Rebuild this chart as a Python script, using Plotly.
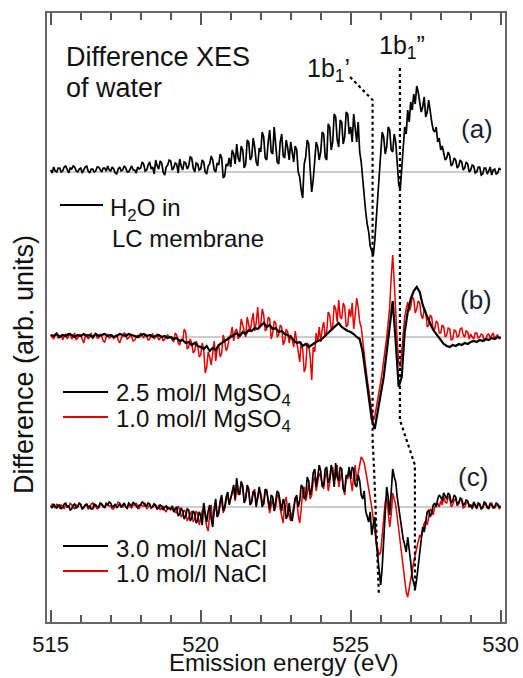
import plotly.graph_objects as go

# ---------------- data (deviation from each baseline, arb. units x10), 515 -> 530 eV ----------------
E_START, E_END = 515.0, 530.0

h2o_lc = [2, -1, 5, 1, 0, 4, 4, 0, 1, 5, 6, 2, -1, 4, 3, 6, 5, 1, 0, 3, 4, -1, 2, 5, 6, 1, -1, 3, 3, 0,
          1, 5, 5, 2, 0, 4, 4, 1, 6, 2, 1, 5, 3, -1, -2, 3, 5, 1, 2, 6, 4, 0, 0, 3, 6, 2, 2, -1, 5, 3,
          4, 10, 8, 1, 2, 7, 10, 3, 5, -2, 12, 6, 3, 11, 9, 0, -3, 5, 7, 12,
          11, 2, 4, 9, 8, -1, 13, 6, 2, 10, 9, 3, 6, 15, 14, 4, 0, 9, 8, 2,
          3, 12, 10, 0, -2, 6, 8, 16, 12, 2, 0, 9, 7, 18, 14, -6, -4, 8, 6, 14,
          5, 22, 18, 8, 28, 14, 10, 26, 22, 4, 8, 32, 30, 12, 15, 34, 25, 10, 6, 24,
          20, 40, 35, 14, 12, 30, 42, 20, 18, 45, 28, 10, 8, 30, 38, 16, 14, 32, 24, 12,
          30, 18, 10, 26, 22, 0, -5, -18, -26, 8, 15, 32, 28, 2, -20, -8, 8, 30, 25, 12,
          20, 40, 38, 15, 12, 48, 45, 22, 30, 58, 55, 32, 25, 52, 50, 28, 35, 60, 58, 38,
          45, 30, 58, 42, 30, 50, 20, 10, -10, -30, -40, -52, -60, -74, -80, -84, -70, -50, -20, 0,
          15, 40, 35, 18, 25, 45, 42, 22, 20, 38, 30, 5, -12, -18, 5, 28, 45, 38, 62, 50,
          70, 62, 78, 68, 86, 80, 72, 60, 65, 75, 55, 60, 72, 58, 50, 42, 40, 45, 30, 34,
          22, 26, 18, 12, 14, 20, 16, 6, 8, 14, 12, 4, 6, 12, 10, 2, 4, 10, 8, 0,
          2, 7, 6, -1, 0, 5, 5, -3, -2, 4, 4, -2, 1, 5, -3, 2, 3, -2, -1, 4, 2]

mgso4_25 = [2, 1, 3, 0, 2, 1, 3, 2, 0, 2, 1, 3, 1, 2, 0, 3, 1, 2, 3, 1, 2, 0, 1, 3, 2, 1, 3, 2, 1, 0,
            2, 3, 1, 2, 0, 1, 2, 0, 1, -1,
            0, -2, -1, -4, -3, -6, -5, -8, -6, -9,
            -10, -12, -9, -14, -11, -13, -8, -6, -4, -2,
            0, 2, 4, 1, 5, 3, 7, 6, 9, 8,
            11, 14, 10, 12, 8, 9, 5, 6, 3, 2,
            0, -3, -6, -5, -9, -7, -10, -8, -6, -4,
            -3, 0, 2, 5, 8, 12, 14, 10, 8, 6,
            5, 3, 0, -2, -15, -38, -62, -82, -92, -75,
            -60, -40, -15, 12, 36, -5, -50, -40, 5, 25,
            38, 46, 50, 45, 32, 24, 16, 10, 5, 1,
            -4, -7, -9, -10, -8, -9, -7, -8, -6, -7,
            -5, -4, -5, -3, -4, -2, -3, -1, -2, 0, -1]

mgso4_10 = [2, 0, -2, 3, 4, -1, 0, 2, -3, 1, 3, -2, 1, 4, -2, 0, 4, -3, -1, 2,
            2, -3, -6, 0, 3, -2, 0, 4, -2, 1, 4, -1, -1, 3, 1, -4, -5, 0, 3, -1,
            0, 2, -2, 1, 2, -3, -6, -1, 1, 4, 3, -2, -1, 2, 0, -4, -3, 0, 2, -1,
            4, 1, -1, 3, 1, -3, -2, 2, 3, -2, 0, 3, -3, -1, 1, -4, -2, 1, 2, 0,
            0, -3, -5, 4, 2, -6, -8, -2, -4, 8, 5, -12, -10, -2, -6, -16, -14, -4, -8, -20,
            -18, -6, -12, -36, -30, -15, -20, -28, -14, -4, -24, -12, -8, -20, -16, 2, -4, -14, -10, 0,
            2, 10, -4, 6, 8, -2, 3, 18, 12, 4, 0, 20, 10, 5, 16, 24, 6, 14, 30, 10,
            12, 28, 22, 6, 8, 20, 18, -2, 4, 16, 14, 0, 2, 12, 10, -8, -4, 8, 5, -6,
            2, -2, -10, 6, -4, -18, -25, -5, -12, -35, -30, -6, -8, -20, -43, -10, -15, 4, -5, 10,
            -5, 8, 15, 0, 5, 25, 22, 8, 10, 32, 28, 15, 37, 20, 18, 34, 30, 10, 12, 28,
            20, 34, 8, 22, 39, 30, 15, 10, -5, -18, -30, -42, -52, -62, -70, -84, -80, -72, -60, -52,
            -45, -35, -25, -10, 0, 15, 30, 60, 82, 55, 20, -5, -25, -30, -15, 5, 20, 28, 35, 26,
            30, 40, 38, 24, 28, 36, 34, 22, 18, 28, 25, 10, 12, 22, 20, 6, 8, 16, 14, 4,
            4, 12, 10, 0, 2, 9, 8, -3, -2, 7, 6, 0, 1, 8, 9, 2, 0, 6, 5, -2,
            3, 0, -2, 4, 4, -1, 0, 3, 2, -4, -3, 2, 3, -1, 1, 4, -2, 1, 2, -2, 0]

nacl_30 = [1, -1, 3, 0, -1, 2, 2, -2, 0, 3, 4, 0, 1, -3, -2, 2, 3, -1, 0, 4,
           2, -2, -1, 2, 3, 0, 1, -2, -2, 3, 2, 0, 0, 4, 3, 1, -1, 3, 2, 5,
           4, 0, 1, 3, -1, 1, 3, 0, 2, 4, 0, -1, 4, 2, 1, 5, 3, 0, -1, 2,
           2, 5, 4, 1, 1, 4, 3, -1, 0, 3, 2, -2, -1, 2, 1, -3, 0, 1, -2, -1,
           -2, 1, -5, -2, 0, -9, -7, -1, -4, -12, -9, -2, -3, -14, -11, -4, -6, -16, -13, -5,
           -8, -18, 4, -6, -15, -4, 2, -12, -20, -2, 8, -10, -5, 6, 12, -4, 0, 10, 15, 2,
           10, 18, 22, 8, 29, 16, 12, 25, 20, 4, 8, 22, 18, 2, 5, 16, 14, 0, 10, 20,
           12, 0, 4, 18, 16, 6, -2, 12, 10, -4, 6, 16, 14, 2, -4, 8, 3, -12, -8, 4,
           -10, -14, -4, 8, 12, 0, 6, 22, 20, 8, 10, 30, 26, 12, 18, 34, 38, 20, 30, 42,
           36, 20, 22, 38, 40, 24, 28, 42, 34, 20, 44, 30, 26, 40, 38, 18, 15, 32, 30, 40,
           28, 40, 38, 22, 20, 32, 26, 12, 8, 16, -4, -10, -15, -5, -28, -18, -10, -35, -50, -70,
           -78, -60, -30, 0, 20, 10, -8, 15, 38, 30, 25, 10, -2, -12, -20, -32, -38, -45, -30, -40,
           -55, -70, -78, -82, -72, -60, -45, -30, -20, -25, -12, -5, -3, -10, -6, 2, 4, 0, 8, 12,
           10, 6, 14, 10, 8, 14, 12, 4, 6, 12, 10, 3, 4, 9, 8, 2, 3, 7, 6, 1,
           2, -1, 5, 2, -1, 4, 3, -2, 0, 5, 4, 0, -2, 3, 2, -1, 0, 4, 3, 0, 1]

nacl_10 = [0, 3, 2, -1, 3, 1, -1, 2, 1, -2, 3, 1, 0, 4, 2, -1, -2, 2, 1, 4,
           3, -1, 0, 2, 2, -2, -1, 3, 4, 0, 1, -2, -1, 3, 2, 0, 0, 4, 3, 1,
           1, -2, -2, 2, 2, 5, 4, 1, 0, 3, 1, -2, 3, 0, -1, 2, 2, 4, 0, -2,
           3, 1, 1, 4, -2, 0, 2, -1, 1, 3, 0, -2, 2, -3, -1, 1, -3, -5, 0, -2,
           -3, 0, -1, -5, -6, 1, -2, -10, -8, -3, -5, -14, -10, -6, -4, -15, -12, -4, -7, -18,
           -10, -4, 0, -12, -20, -24, -6, 2, -14, -6, 4, -10, -8, 2, 8, -6, -2, 6, 12, 4,
           8, 14, 18, 6, 24, 12, 15, 26, 22, 6, 10, 20, 14, 2, 6, 14, 18, 4, 8, 16,
           14, 6, 2, 14, 18, 4, -6, 2, 8, -4, 0, 12, 10, -2, -10, -16, 5, 10, -4, -10,
           -14, -6, 0, 10, 8, -8, -16, -2, 16, 20, 6, 14, 22, 8, 12, 26, 30, 16, 24, 34,
           30, 24, 18, 30, 36, 16, 24, 38, 40, 26, 30, 42, 20, 28, 34, 20, 12, 30, 28, 38,
           24, 16, 32, 42, 26, 34, 40, 50, 48, 44, 36, 28, 20, 10, 0, -12, -25, -35, -42, -48,
           -45, -30, -12, 5, 10, -5, -20, -8, 14, 8, 2, -10, -22, -38, -50, -62, -75, -85, -90, -80,
           -72, -65, -55, -48, -42, -35, -28, -30, -22, -16, -14, -18, -10, -2, -4, -8, 0, 2, 4, 0,
           6, 2, 10, 5, 4, 10, 9, 0, 2, 7, 8, 1, 3, 8, 6, -1, 0, 4, 5, 0,
           1, -2, 4, 1, -2, 3, 3, -2, -1, 3, 2, -1, 0, 4, 4, 0, -1, 2, 2, -2, 0]

# peak guide lines (1b1' and 1b1'')
b1p_x = [524.98, 525.73, 525.73, 525.78, 525.94]
b1p_y = [54.5, 52.2, 18.2, 15.2, 2.7]
b1pp_x = [526.64, 526.64, 527.14, 527.14]
b1pp_y = [55.4, 20.2, 15.7, 2.9]

tick_vals = [515, 520, 525, 530]

# ---------------- layout constants (pixel positions of the 523x678 page) ----------------
W, H = 523, 678
L, R, T, B = 47, 18, 13, 56
PW, PH = W - L - R, H - T - B
OFF_A, OFF_B, OFF_C = 45.0, 28.5, 11.5
XR = [514.877, 530.143]
YR = [0, 60.9]
FONT = "Liberation Sans, Arial, sans-serif"
RED = "#e30000"


def px(x):
    return (x - L) / PW


def py(y):
    return (T + PH - y) / PH


def xs(vals):
    n = len(vals)
    return [round(E_START + (E_END - E_START) * i / (n - 1), 3) for i in range(n)]


def ys(vals, off):
    return [off + v / 10.0 for v in vals]


fig = go.Figure()

# baselines
for off in (OFF_A, OFF_B, OFF_C):
    fig.add_trace(go.Scatter(x=[515, 530], y=[off, off], mode="lines",
                             line=dict(color="#9a9a9a", width=1), hoverinfo="skip", showlegend=False))

fig.add_trace(go.Scatter(x=xs(h2o_lc), y=ys(h2o_lc, OFF_A), mode="lines",
                         line=dict(color="black", width=1.7), name="H2O in LC membrane", showlegend=False))
fig.add_trace(go.Scatter(x=xs(mgso4_10), y=ys(mgso4_10, OFF_B), mode="lines",
                         line=dict(color=RED, width=1.5), name="1.0 mol/l MgSO4", showlegend=False))
fig.add_trace(go.Scatter(x=xs(mgso4_25), y=ys(mgso4_25, OFF_B), mode="lines",
                         line=dict(color="black", width=2.2), name="2.5 mol/l MgSO4", showlegend=False))
fig.add_trace(go.Scatter(x=xs(nacl_10), y=ys(nacl_10, OFF_C), mode="lines",
                         line=dict(color=RED, width=1.5), name="1.0 mol/l NaCl", showlegend=False))
fig.add_trace(go.Scatter(x=xs(nacl_30), y=ys(nacl_30, OFF_C), mode="lines",
                         line=dict(color="black", width=1.7), name="3.0 mol/l NaCl", showlegend=False))

# guide lines
for gx, gy in ((b1p_x, b1p_y), (b1pp_x, b1pp_y)):
    fig.add_trace(go.Scatter(x=gx, y=gy, mode="lines",
                             line=dict(color="black", width=2.2, dash="dot"), hoverinfo="skip", showlegend=False))

ann = []


def text(x, y, s, size, color="#111", xanchor="left", angle=0):
    ann.append(dict(x=px(x), y=py(y), xref="paper", yref="paper", text=s, showarrow=False,
                    xanchor=xanchor, yanchor="middle", textangle=angle,
                    font=dict(family=FONT, size=size, color=color)))


text(64, 57, "Difference XES", 27)
text(64, 88, "of water", 27)
text(328, 70, "1b<sub>1</sub>’", 25, xanchor="center")
text(402, 47, "1b<sub>1</sub>”", 25, xanchor="center")
text(477, 129, "(a)", 26, color="#1b1f33", xanchor="center")
text(476, 300, "(b)", 26, color="#1b1f33", xanchor="center")
text(473, 477, "(c)", 26, color="#1b1f33", xanchor="center")

text(108, 209, "H<sub>2</sub>O in", 24)
text(110, 238, "LC membrane", 24)
text(114, 394, "2.5 mol/l MgSO<sub>4</sub>", 24)
text(114, 420, "1.0 mol/l MgSO<sub>4</sub>", 24)
text(114, 548, "3.0 mol/l NaCl", 24)
text(114, 573, "1.0 mol/l NaCl", 24)

text(283, 662, "Emission energy (eV)", 24, xanchor="center")
text(24, 365, "Difference (arb. units)", 27, xanchor="center", angle=-90)

shapes = []
for (x0, x1, y0, col) in ((60, 103, 205, "black"), (63, 108, 392, "black"), (63, 108, 417, RED),
                          (63, 108, 546, "black"), (63, 108, 571, RED)):
    shapes.append(dict(type="line", xref="paper", yref="paper", x0=px(x0), x1=px(x1),
                       y0=py(y0), y1=py(y0), line=dict(color=col, width=2)))

fig.update_layout(
    width=W, height=H,
    margin=dict(l=L, r=R, t=T, b=B, autoexpand=False),
    paper_bgcolor="white", plot_bgcolor="white",
    annotations=ann, shapes=shapes,
    font=dict(family=FONT, size=22, color="#111"),
    xaxis=dict(range=XR, tickvals=tick_vals, ticks="inside", ticklen=12, tickwidth=1.5,
               tickcolor="#555", showline=True, linecolor="#666", linewidth=1.5, mirror="ticks",
               automargin=False, ticklabelstandoff=2,
               showgrid=False, zeroline=False, tickfont=dict(family=FONT, size=22, color="#111"),
               minor=dict(dtick=1, ticks="inside", ticklen=7, tickwidth=1.5, tickcolor="#555", showgrid=False)),
    yaxis=dict(range=YR, showticklabels=False, ticks="", showline=True, linecolor="#666", linewidth=1.5,
               mirror=True, showgrid=False, zeroline=False, automargin=False),
)

# the page's default 8px body margin would shift the figure; remove it
fig.write_html("out.html", config={"displayModeBar": False},
               post_script="document.body.style.margin='0px';")
